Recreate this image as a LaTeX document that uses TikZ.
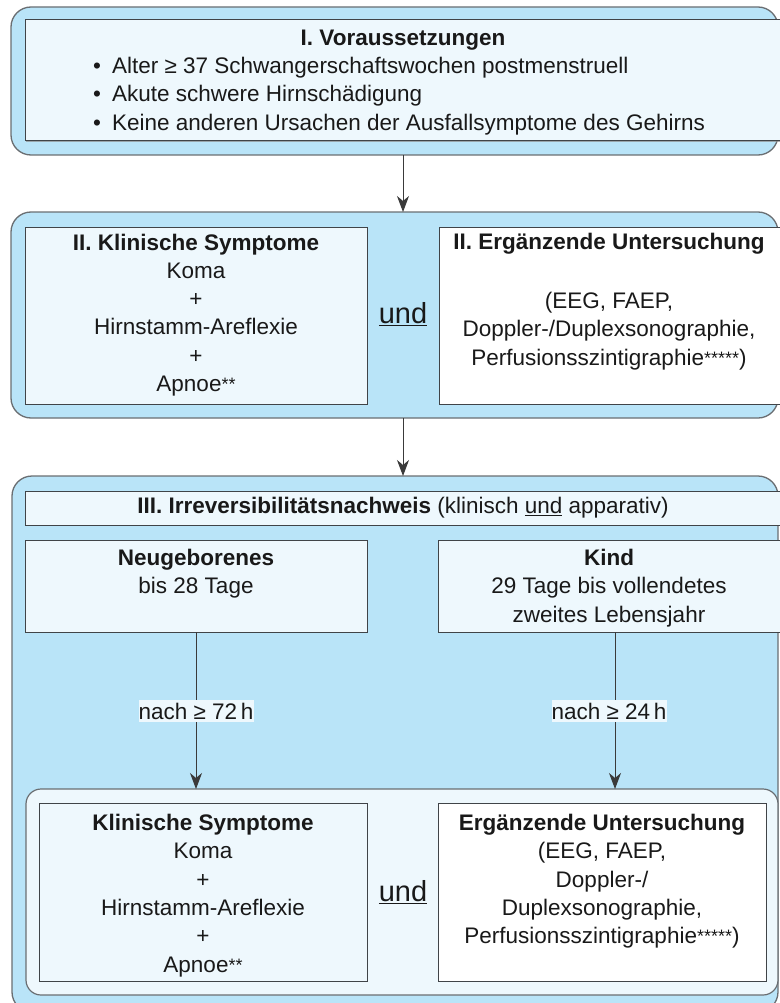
\documentclass[tikz,border=0pt]{standalone}
\usepackage{fontspec}
\setmainfont{Liberation Sans}
\usetikzlibrary{arrows.meta,fit,shadows}
\definecolor{outerblue}{HTML}{B9E4F8}
\definecolor{innerblue}{HTML}{EEF8FD}
\definecolor{outerline}{HTML}{6A6E72}
\definecolor{innerline}{HTML}{404448}
\definecolor{arrline}{HTML}{3A3A3A}
\newcommand{\stars}[1]{\raisebox{1pt}{\fontsize{18}{18}\selectfont #1}}
\begin{document}
\begin{tikzpicture}[x=1pt,y=-1pt,
  outerbox/.style={draw=outerline,line width=1.3pt,fill=outerblue,rounded corners=20pt,inner sep=0pt,outer sep=0pt},
  midbox/.style={draw=outerline,line width=1.2pt,fill=innerblue,rounded corners=15pt,inner sep=0pt,outer sep=0pt},
  inbox/.style={draw=innerline,line width=1pt,fill=innerblue,inner sep=0pt,outer sep=0pt,
     drop shadow={shadow xshift=1pt,shadow yshift=-1pt,fill=black!45,opacity=0.7}},
  whitebox/.style={inbox,fill=white},
  txt/.style={font=\fontsize{22.5}{28.3}\selectfont,align=center,inner sep=0pt,text=black!90},
  btxt/.style={txt,font=\fontsize{22.5}{28.3}\selectfont\bfseries},
  undtxt/.style={txt,font=\fontsize{29}{30}\selectfont},
  arr/.style={draw=arrline,line width=1pt,-{Stealth[length=16pt,width=12pt,inset=5pt]}},
  lbl/.style={txt,fill=innerblue,minimum width=115pt,minimum height=22pt}
]
\useasboundingbox (0,0) rectangle (779,1003);
% ---------- I
\node[outerbox,fit={(11,7)(778,155)}] (I) {};
\node[inbox,fit={(25,20)(792,141)}] (Iin) {};
\node[btxt] (Ititle) at (403,40) {I. Voraussetzungen};
\node[txt,align=left,anchor=west] (Ilist) at (93,96) {\textbullet\hspace{11pt}Alter ≥ 37 Schwangerschaftswochen postmenstruell\\
\textbullet\hspace{11pt}Akute schwere Hirnschädigung\\
\textbullet\hspace{11pt}Keine anderen Ursachen der Ausfallsymptome des Gehirns};
% ---------- II
\node[outerbox,fit={(11,212)(778,418)}] (II) {};
\node[inbox,fit={(25,227)(367,404)}] (IIl) {};
\node[whitebox,fit={(439,227)(792,404)}] (IIr) {};
\node[txt] (IIltext) at (196,315) {\textbf{II. Klinische Symptome}\\Koma\\+\\Hirnstamm-Areflexie\\+\\Apnoe\stars{**}};
\node[btxt] (IIrtitle) at (609,244) {II. Ergänzende Untersuchung};
\node[txt] (IIrtext) at (609,331) {(EEG, FAEP,\\Doppler-/Duplexsonographie,\\Perfusionsszintigraphie\stars{*****})};
\node[undtxt] (und1) at (403,314) {\underline{und}};
% ---------- III
\node[outerbox,fit={(12,476)(778,1012)}] (III) {};
\node[inbox,fit={(25,491)(792,525)}] (IIIh) {};
\node[txt] (IIIhtext) at (403,508) {\textbf{III. Irreversibilitätsnachweis} (klinisch \underline{und} apparativ)};
\node[inbox,fit={(25,540)(367,632)}] (neo) {};
\node[inbox,fit={(438,540)(792,632)}] (kind) {};
\node[txt,anchor=north] (neotext) at (196,549) {\textbf{Neugeborenes}\\bis 28 Tage};
\node[txt,anchor=north] (kindtext) at (609,549) {\textbf{Kind}\\29 Tage bis vollendetes\\zweites Lebensjahr};
\node[midbox,fit={(26,789)(778,995)}] (bot) {};
\node[inbox,fit={(39,803)(367,981)}] (bl) {};
\node[whitebox,fit={(438,803)(766,981)}] (br) {};
\node[txt,anchor=north] (bltext) at (203,814) {\textbf{Klinische Symptome}\\Koma\\+\\Hirnstamm-Areflexie\\+\\Apnoe\stars{**}};
\node[txt,anchor=north] (brtext) at (602,814) {\textbf{Ergänzende Untersuchung}\\(EEG, FAEP,\\Doppler-/\\Duplexsonographie,\\Perfusionsszintigraphie\stars{*****})};
\node[undtxt] (und2) at (403,892) {\underline{und}};
% ---------- arrows
\draw[arr] (I.south -| und1) -- (II.north -| und1);
\draw[arr] (II.south -| und1) -- (III.north -| und1);
\draw[arr] (neo.south) -- (neo.south |- bot.north);
\node[lbl] (lab72) at (196,711) {nach ≥ 72\,h};
\draw[arr] (kind.south) -- (kind.south |- bot.north);
\node[lbl] (lab24) at (609,711) {nach ≥ 24\,h};
\end{tikzpicture}
\end{document}
